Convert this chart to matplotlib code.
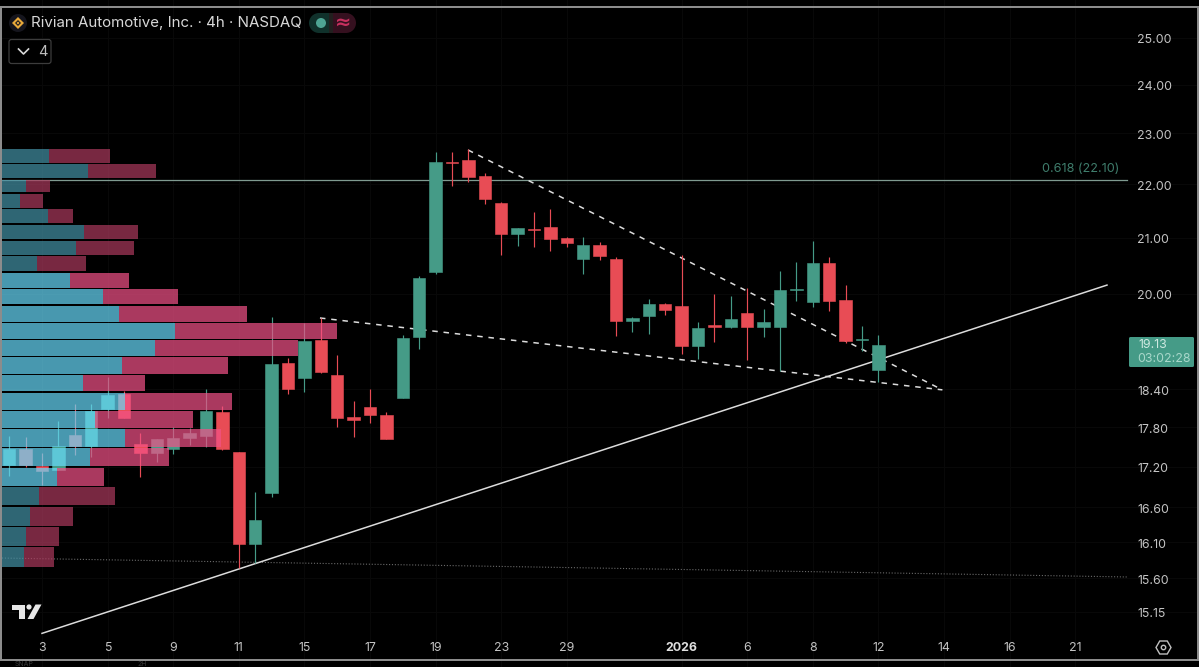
import matplotlib
matplotlib.use('Agg')
import matplotlib.pyplot as plt
from matplotlib.patches import Rectangle, FancyBboxPatch, Circle, Polygon, RegularPolygon
from matplotlib.transforms import ScaledTranslation

plt.rcParams['font.family'] = ['Inter', 'DejaVu Sans']

# ---- data -----------------------------------------------------------
opens = [17.22,17.47,17.21,17.15,17.68,17.51,18.09,18.32,17.54,17.40,17.47,17.63,17.66,18.04,17.42,16.08,16.81,18.83,18.58,19.21,18.63,17.96,18.12,17.99,
         18.26,19.26,20.38,
         22.44,22.48,22.16,21.65,21.07,21.16,21.20,21.00,20.62,20.87,20.62,19.53,19.61,19.82,19.79,19.11,19.46,19.43,19.67,19.43,19.43,20.07,19.86,20.54,
         19.89,19.21,18.71]
highs = [17.66,17.65,17.40,17.90,18.17,18.17,18.60,18.37,17.71,17.62,17.80,17.79,18.40,18.13,17.42,16.82,19.60,18.91,19.50,19.58,18.96,18.21,18.40,18.04,
         19.29,20.31,22.63,
         22.63,22.69,22.22,21.67,21.18,21.48,21.53,21.01,21.01,20.92,20.65,19.60,19.91,19.84,20.69,19.51,20.00,19.96,20.10,19.74,20.40,20.56,20.94,20.65,
         20.15,19.44,19.29]
lows = [17.06,17.19,16.93,17.15,17.37,17.34,17.94,17.94,17.04,17.27,17.39,17.53,17.50,17.45,15.74,15.81,16.75,18.32,18.36,18.66,17.80,17.65,17.87,17.62,
        18.26,19.06,20.35,
        21.97,22.05,21.63,20.69,20.85,20.83,20.76,20.83,20.35,20.60,19.28,19.34,19.31,19.63,18.98,18.89,19.17,19.41,18.88,19.26,18.70,19.87,19.77,19.70,
        19.16,19.03,18.52]
closes = [17.47,17.22,17.13,17.51,17.51,18.05,18.31,17.94,17.40,17.62,17.63,17.71,18.05,17.47,16.08,16.42,18.81,18.40,19.19,18.68,17.94,17.91,17.99,17.62,
          19.24,20.28,22.44,
          22.42,22.14,21.72,21.07,21.18,21.14,20.98,20.91,20.87,20.67,19.53,19.58,19.82,19.72,19.11,19.41,19.43,19.56,19.43,19.51,20.07,20.08,20.54,19.87,
          19.19,19.22,19.13]
first_bar = -2

vp_low = [22.42,22.13,21.86,21.55,21.27,20.98,20.69,20.40,20.10,19.82,19.51,19.23,18.94,18.65,18.37,18.07,17.79,17.50,17.21,16.91,16.63,16.33,16.05,15.76]
vp_high = [22.69,22.40,22.09,21.82,21.53,21.24,20.94,20.67,20.36,20.08,19.79,19.50,19.21,18.93,18.63,18.34,18.05,17.77,17.48,17.18,16.90,16.60,16.32,16.03]
vp_up = [46.5,86,24,18,46,82,74,35,68,101,117,173,153,120,81,123,93,123,88,55,37,28,24,22]
vp_down = [61.5,67.5,23.5,23,25,53.5,58,49,59,75,128,162,143,106,62,107,98,96,79,47,76,43,33,30]
value_area = [False]*8 + [True]*12 + [False]*4

trend_x, trend_y = [0.0, 64.94], [14.87, 20.15]
upper_x, upper_y = [25.98, 54.9], [22.67, 18.39]
lower_x, lower_y = [16.95, 54.9], [19.58, 18.39]
dotted_x, dotted_y = [-2.44, 66.16], [15.88, 15.62]
fib_x, fib_y = [-2.56, 66.16], [22.08, 22.08]

y_ticks = [25.00,24.00,23.00,22.00,21.00,20.00,18.40,17.80,17.20,16.60,16.10,15.60,15.15]
x_ticks = [0,4,8,12,16,20,24,28,32,39,43,47,51,55,59,63]
x_labels = ['3','5','9','11','15','17','19','23','29','2026','6','8','12','14','16','21']

GREEN, RED = '#459B87', '#E84C55'
TICK = '#c4c4c4'

# ---- figure ---------------------------------------------------------
fig = plt.figure(figsize=(11.99, 6.67), dpi=100, facecolor='black')
ax = fig.add_axes([0, 0, 1, 1], facecolor='black')
ax.set_yscale('log')
ax.set_ylim(14.44, 25.84)
ax.set_xlim(-2.561, 70.55)
for s in ax.spines.values():
    s.set_visible(False)

ax.set_yticks(y_ticks)
ax.set_yticklabels([f'{v:.2f}' for v in y_ticks])
ax.minorticks_off()
ax.set_xticks(x_ticks)
ax.set_xticklabels(x_labels)
ax.yaxis.tick_right()
ax.tick_params(axis='y', length=0, pad=-44.5, labelsize=8.9, labelcolor=TICK)
ax.tick_params(axis='x', length=0, pad=-18, labelsize=8.9, labelcolor=TICK)
for lab in ax.get_xticklabels():
    if lab.get_text() == '2026':
        lab.set_fontweight('bold')
        lab.set_color('#e0e0e0')
for lab in ax.get_yticklabels():
    lab.set_transform(lab.get_transform() + ScaledTranslation(0, -0.8 / 100, fig.dpi_scale_trans))
ax.grid(True, color='#080808', lw=0.8)
ax.set_axisbelow(True)

# reference lines (under the candles)
ax.plot(fib_x, fib_y, color='#7f9a90', lw=0.9, zorder=2)
ax.plot(dotted_x, dotted_y, color='#6a6a6a', lw=0.8, ls=(0, (1, 1.6)), zorder=2)
ax.plot(trend_x, trend_y, color='#dcdcdc', lw=1.1, zorder=2.2)
ax.plot(upper_x, upper_y, color='#dcdcdc', lw=1.1, ls=(0, (3.6, 3.8)), zorder=2.2)
ax.plot(lower_x, lower_y, color='#dcdcdc', lw=1.1, ls=(0, (3.6, 3.8)), zorder=2.2)

# candles
xs = [first_bar + i for i in range(len(opens))]
cols = [GREEN if c >= o else RED for o, c in zip(opens, closes)]
ax.vlines(xs, lows, highs, colors=cols, lw=0.85, zorder=3)
bottoms = [min(o, c) for o, c in zip(opens, closes)]
sizes = [abs(c - o) for o, c in zip(opens, closes)]
ax.bar(xs, sizes, bottom=bottoms, width=0.76, color=cols, edgecolor=cols, lw=0.4, zorder=4)

# volume profile, translucent over the candles
vax = fig.add_axes([2 / 1199, 0, 1197 / 1199, 1], zorder=2)
vax.patch.set_visible(False)
vax.set_yscale('log')
vax.set_ylim(14.44, 25.84)
vax.set_xlim(0, 1197)
vax.axis('off')
A = 0.7
for lo, hi, u, d, va in zip(vp_low, vp_high, vp_up, vp_down, value_area):
    cu = (104/255, 218/255, 250/255) if va else (68/255, 146/255, 166/255)
    cd = (243/255, 82/255, 136/255) if va else (172/255, 58/255, 94/255)
    vax.barh(lo, u, height=hi - lo, align='edge', color=cu, alpha=A, lw=0)
    vax.barh(lo, d, height=hi - lo, left=u, align='edge', color=cd, alpha=A, lw=0)

# pixel overlay for the chrome
ov = fig.add_axes([0, 0, 1, 1], zorder=3)
ov.patch.set_visible(False)
ov.set_xlim(0, 1199)
ov.set_ylim(667, 0)
ov.axis('off')

ov.text(31, 22.5, 'Rivian Automotive, Inc. · 4h · NASDAQ', color='#d8d8d8', fontsize=10.85, va='center', ha='left')
ov.text(1119, 169.5, '0.618 (22.10)', color='#3f7d6c', fontsize=9.1, va='center', ha='right')

# frame
BORDER = '#8c8c8c'
for rect in [(0, 6, 1199, 2), (0, 659, 1199, 2), (0, 6, 2, 655), (1197, 6, 2, 655)]:
    ov.add_patch(Rectangle(rect[:2], rect[2], rect[3], color=BORDER, lw=0))
ov.text(15, 666.3, 'SNAP', color='#3a3a3a', fontsize=5, va='baseline', ha='left')
ov.text(138, 666.3, '2H', color='#3a3a3a', fontsize=5, va='baseline', ha='left')

# logo badge
ov.add_patch(Circle((18, 23), 9, color='#15151d', lw=0))
ov.add_patch(Polygon([(18, 17), (24, 23), (18, 29), (12, 23)], closed=True, fc='#e8a93a', lw=0))
ov.add_patch(Polygon([(18, 20), (21, 23), (18, 26), (15, 23)], closed=True, fc='#15151d', lw=0))
ov.add_patch(Polygon([(18, 21.5), (19.5, 23), (18, 24.5), (16.5, 23)], closed=True, fc='#e8a93a', lw=0))

# status pill
ov.add_patch(Rectangle((319, 13), 10, 20, fc='#10312b', lw=0))
ov.add_patch(Circle((319, 23), 10, color='#10312b', lw=0))
ov.add_patch(Rectangle((333, 13), 13, 20, fc='#35101f', lw=0))
ov.add_patch(Circle((346, 23), 10, color='#35101f', lw=0))
ov.add_patch(Rectangle((329, 13), 4, 20, fc='#22201f', lw=0))
ov.add_patch(Circle((321, 23), 5, color='#4ea493', lw=0))
ov.text(343, 22.5, '≈', color='#c8305f', fontsize=14, family='DejaVu Sans', fontweight='bold', ha='center', va='center')

# collapse button
ov.add_patch(FancyBboxPatch((9, 39.5), 42, 24, boxstyle='round,pad=0,rounding_size=2.5', fc='black', ec='#3c3c3c', lw=0.9))
ov.plot([18.5, 23.5, 28.5], [49, 54, 49], color='#d8d8d8', lw=1.2)
ov.text(43, 52, '4', color='#bdbdbd', fontsize=10.5, ha='center', va='center')

# TradingView mark
LOGO = '#e6e6e6'
ov.add_patch(Polygon([(12, 604.5), (24.5, 604.5), (24.5, 619), (18.5, 619), (18.5, 610), (12, 610)], closed=True, fc=LOGO, lw=0))
ov.add_patch(Circle((29, 607), 2.6, color=LOGO, lw=0))
ov.add_patch(Polygon([(35.5, 604.5), (41.5, 604.5), (33.5, 619), (27.5, 619)], closed=True, fc=LOGO, lw=0))

# last price tag
ov.add_patch(FancyBboxPatch((1129, 337), 65, 30, boxstyle='round,pad=0,rounding_size=1.5', fc=GREEN, lw=0))
ov.text(1138, 345.5, '19.13', color='#cfe9e1', fontsize=8.9, va='center', ha='left')
ov.text(1137, 359, '03:02:28', color='#a9d8cb', fontsize=8.9, va='center', ha='left')

# settings glyph
ov.add_patch(RegularPolygon((1163.5, 647.5), 6, radius=7.5, orientation=0.5236, fc='none', ec='#c0c0c0', lw=1))
ov.add_patch(Circle((1163.5, 647.5), 2.2, fc='none', ec='#c0c0c0', lw=1))

fig.savefig('out.png', dpi=100, facecolor='black')
